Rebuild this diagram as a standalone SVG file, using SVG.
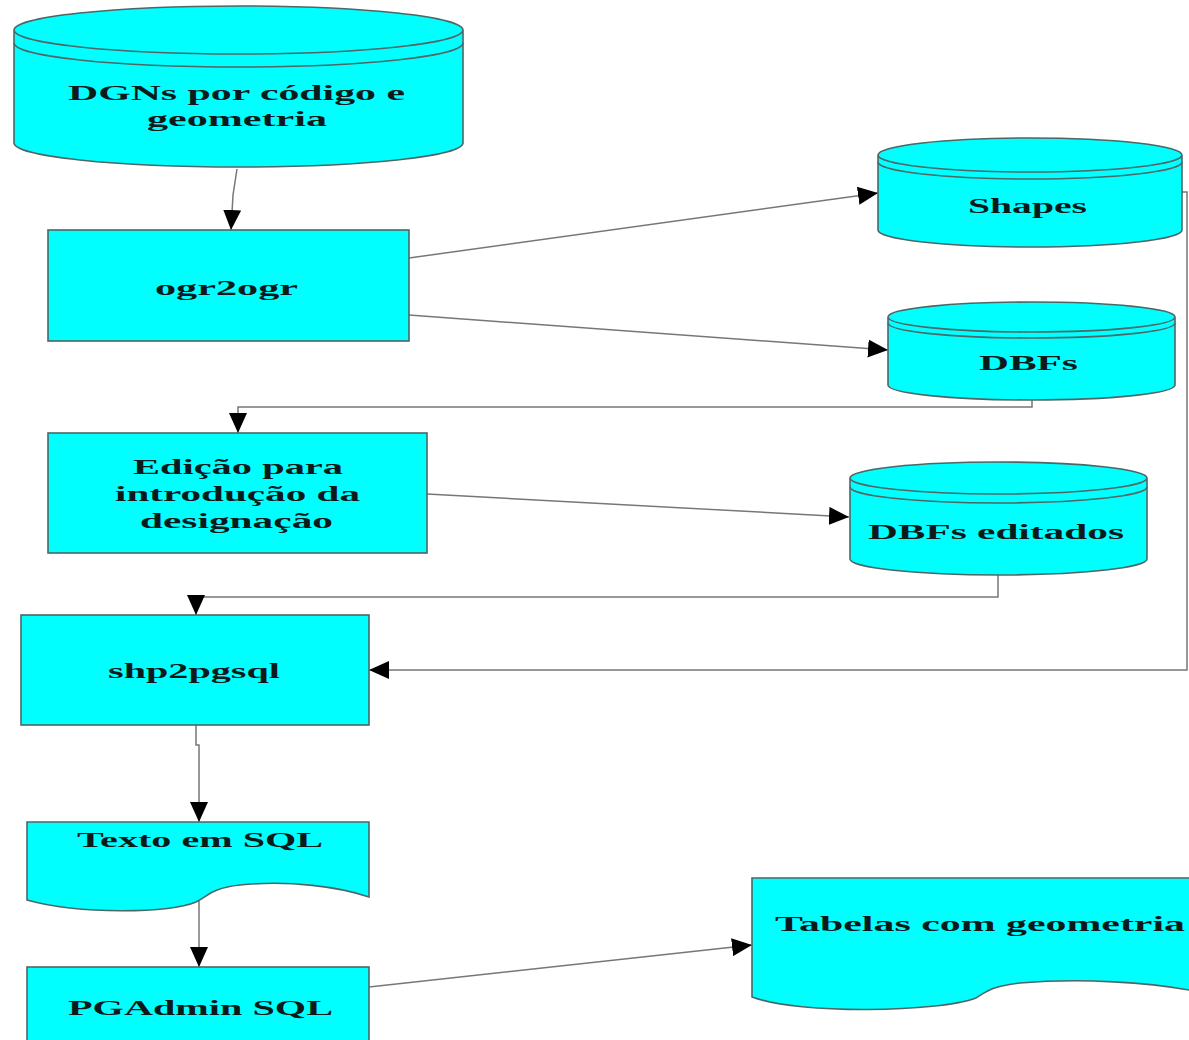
<svg xmlns="http://www.w3.org/2000/svg" width="1189" height="1040" viewBox="0 0 1189 1040">
<style>
.shape{fill:#00ffff;stroke:#4d6666;stroke-width:1.6}
.inner{fill:none;stroke:#4d6666;stroke-width:1.6}
.lbl{font-family:"Liberation Serif","Times New Roman",serif;font-weight:bold;font-size:21px;fill:#0d1a1a}
.conn{fill:none;stroke:#777;stroke-width:1.5}
</style>
<defs>
<marker id="ah" markerUnits="userSpaceOnUse" markerWidth="20" markerHeight="18" viewBox="0 0 20 18" refX="20" refY="9" orient="auto">
<path d="M0,0 L20,9 L0,18 z" fill="#000"/>
</marker>
</defs>
<rect width="1189" height="1040" fill="#fff"/>

<g id="connectors">
<path class="conn" d="M237,169 L233,195 L231,230" marker-end="url(#ah)"/>
<path class="conn" d="M409,258 L878,193" marker-end="url(#ah)"/>
<path class="conn" d="M409,315 L888,350" marker-end="url(#ah)"/>
<path class="conn" d="M1032,400 V407 H238 V433" marker-end="url(#ah)"/>
<path class="conn" d="M427,494 L849,517" marker-end="url(#ah)"/>
<path class="conn" d="M998,575 V597 H196 V615" marker-end="url(#ah)"/>
<path class="conn" d="M1182,192 H1187 V670 H369" marker-end="url(#ah)"/>
<path class="conn" d="M196,725 V745 H199 V822" marker-end="url(#ah)"/>
<path class="conn" d="M199,897 V967" marker-end="url(#ah)"/>
<path class="conn" d="M369,987 L752,945" marker-end="url(#ah)"/>
</g>

<g id="dgns">
<path class="shape" d="M14,30 V143 A224.5,24 0 0 0 463,143 V30 A224.5,24 0 0 0 14,30 A224.5,24 0 0 0 463,30"/>
<path class="inner" d="M14,43 A224.5,24 0 0 0 463,43"/>
<text class="lbl" x="68" y="100" textLength="337" lengthAdjust="spacingAndGlyphs">DGNs por código e</text>
<text class="lbl" x="147" y="126" textLength="180" lengthAdjust="spacingAndGlyphs">geometria</text>
</g>

<g id="ogr2ogr">
<rect class="shape" x="48" y="230" width="361" height="111"/>
<text class="lbl" x="155" y="295" textLength="143" lengthAdjust="spacingAndGlyphs">ogr2ogr</text>
</g>

<g id="shapes">
<path class="shape" d="M878,155 V230 A152,17 0 0 0 1182,230 V155 A152,17 0 0 0 878,155 A152,17 0 0 0 1182,155"/>
<path class="inner" d="M878,162 A152,17 0 0 0 1182,162"/>
<text class="lbl" x="968" y="213" textLength="119" lengthAdjust="spacingAndGlyphs">Shapes</text>
</g>

<g id="dbfs">
<path class="shape" d="M888,317 V385 A143.5,15 0 0 0 1175,385 V317 A143.5,15 0 0 0 888,317 A143.5,15 0 0 0 1175,317"/>
<path class="inner" d="M888,323 A143.5,15 0 0 0 1175,323"/>
<text class="lbl" x="979" y="370" textLength="99" lengthAdjust="spacingAndGlyphs">DBFs</text>
</g>

<g id="edicao">
<rect class="shape" x="48" y="433" width="379" height="120"/>
<text class="lbl" x="133" y="474" textLength="210" lengthAdjust="spacingAndGlyphs">Edição para</text>
<text class="lbl" x="115" y="501" textLength="245" lengthAdjust="spacingAndGlyphs">introdução da</text>
<text class="lbl" x="140" y="528" textLength="193" lengthAdjust="spacingAndGlyphs">designação</text>
</g>

<g id="dbfs-editados">
<path class="shape" d="M850,478 V559 A148.5,16 0 0 0 1147,559 V478 A148.5,16 0 0 0 850,478 A148.5,16 0 0 0 1147,478"/>
<path class="inner" d="M850,487 A148.5,16 0 0 0 1147,487"/>
<text class="lbl" x="868" y="539" textLength="256" lengthAdjust="spacingAndGlyphs">DBFs editados</text>
</g>

<g id="shp2pgsql">
<rect class="shape" x="21" y="615" width="348" height="110"/>
<text class="lbl" x="108" y="678" textLength="172" lengthAdjust="spacingAndGlyphs">shp2pgsql</text>
</g>

<g id="texto-sql">
<path class="shape" d="M27,822 H369 V897 C340,887 290,880 240,885 C212,888 208,896 196,902 C170,913 80,915 27,900 Z"/>
<text class="lbl" x="77" y="847" textLength="246" lengthAdjust="spacingAndGlyphs">Texto em SQL</text>
</g>

<g id="pgadmin">
<rect class="shape" x="27" y="967" width="342" height="90"/>
<text class="lbl" x="68" y="1015" textLength="265" lengthAdjust="spacingAndGlyphs">PGAdmin SQL</text>
</g>

<g id="tabelas">
<path class="shape" d="M752,878 H1200 V992 C1150,982 1080,978 1020,983 C992,986 986,992 976,998 C940,1012 800,1015 752,997 Z"/>
<text class="lbl" x="775" y="931" textLength="410" lengthAdjust="spacingAndGlyphs">Tabelas com geometria</text>
</g>
</svg>
